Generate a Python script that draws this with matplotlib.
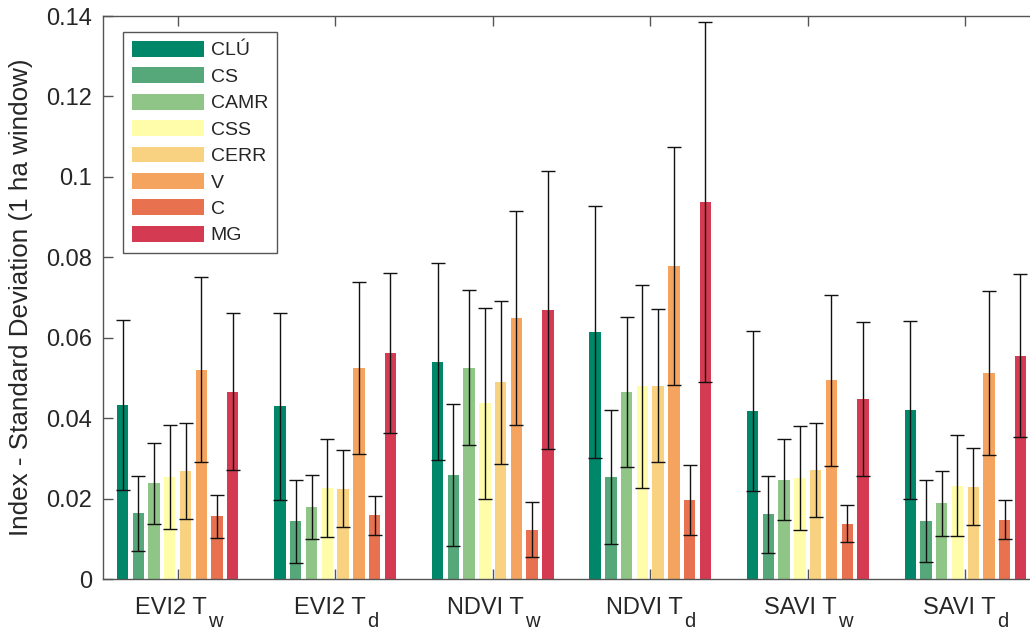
import matplotlib
matplotlib.use('Agg')
import matplotlib.pyplot as plt
import numpy as np
from matplotlib.ticker import FormatStrFormatter

plt.rcParams['font.family'] = ['Liberation Sans', 'DejaVu Sans']

group_index = ['EVI2', 'EVI2', 'NDVI', 'NDVI', 'SAVI', 'SAVI']
group_sub = ['w', 'd', 'w', 'd', 'w', 'd']
classes = ['CLÚ', 'CS', 'CAMR', 'CSS', 'CERR', 'V', 'C', 'MG']
colors = ['#00876a', '#56a87a', '#8fc587', '#fffdaa', '#f8d280', '#f4a45f', '#e8714f', '#d43b52']

# mean std per class, one value per group
mean_clu = [0.0433, 0.0430, 0.0541, 0.0615, 0.0418, 0.0421]
mean_cs = [0.0164, 0.0145, 0.0260, 0.0255, 0.0162, 0.0145]
mean_camr = [0.0239, 0.0180, 0.0526, 0.0466, 0.0248, 0.0189]
mean_css = [0.0255, 0.0228, 0.0438, 0.0480, 0.0253, 0.0233]
mean_cerr = [0.0270, 0.0226, 0.0490, 0.0481, 0.0272, 0.0231]
mean_v = [0.0521, 0.0525, 0.0650, 0.0779, 0.0495, 0.0513]
mean_c = [0.0157, 0.0159, 0.0124, 0.0197, 0.0138, 0.0149]
mean_mg = [0.0467, 0.0562, 0.0670, 0.0938, 0.0449, 0.0556]

err_clu = [0.0211, 0.0232, 0.0245, 0.0312, 0.0199, 0.0222]
err_cs = [0.0094, 0.0103, 0.0176, 0.0166, 0.0096, 0.0102]
err_camr = [0.0100, 0.0079, 0.0192, 0.0187, 0.0101, 0.0081]
err_css = [0.0130, 0.0122, 0.0237, 0.0252, 0.0129, 0.0125]
err_cerr = [0.0120, 0.0096, 0.0203, 0.0190, 0.0117, 0.0096]
err_v = [0.0230, 0.0214, 0.0266, 0.0296, 0.0213, 0.0203]
err_c = [0.0053, 0.0049, 0.0068, 0.0087, 0.0046, 0.0048]
err_mg = [0.0196, 0.0199, 0.0346, 0.0448, 0.0191, 0.0203]

means = [mean_clu, mean_cs, mean_camr, mean_css, mean_cerr, mean_v, mean_c, mean_mg]
errs = [err_clu, err_cs, err_camr, err_css, err_cerr, err_v, err_c, err_mg]

fig = plt.figure(figsize=(10.3, 6.3), dpi=100)
ax = fig.add_axes([0.1, 0.0802, 0.9097, 0.8944])

x = np.arange(1, len(group_index) + 1)
step = 0.1
for i in range(len(classes)):
    pos = x + (i - 3.5) * step
    ax.bar(pos, means[i], width=0.072, color=colors[i], edgecolor='none', label=classes[i], zorder=2)
    ax.errorbar(pos, means[i], yerr=errs[i], fmt='none', ecolor='#111111', elinewidth=1.0,
                capsize=5, capthick=1.0, zorder=3)

ax.set_xlim(0.526, 6.474)
ax.set_ylim(0, 0.14)
ax.set_xticks(x)
ax.set_xticklabels([])
ax.set_yticks(np.arange(0, 0.141, 0.02))
ax.yaxis.set_major_formatter(FormatStrFormatter('%g'))
ax.set_axisbelow(True)

ax.tick_params(direction='in', length=7, width=1.0, color='#555555', labelsize=17,
               labelcolor='#262626', top=True, right=True)
ax.tick_params(axis='y', pad=8)
for s in ax.spines.values():
    s.set_color('#555555')
    s.set_linewidth(1.0)

ax.set_ylabel('Index - Standard Deviation (1 ha window)', fontsize=18.7, color='#262626', labelpad=9)

# group labels with MATLAB-like subscripts (bigger and lower than mathtext)
fig.canvas.draw()
renderer = fig.canvas.get_renderer()
for i in range(len(x)):
    t1 = ax.annotate(group_index[i] + ' T', xy=(x[i], 0), xycoords=('data', 'axes fraction'),
                     xytext=(0, -25), textcoords='offset points', ha='left', va='baseline',
                     fontsize=17, color='#262626', annotation_clip=False)
    t2 = ax.annotate(group_sub[i], xy=(x[i], 0), xycoords=('data', 'axes fraction'),
                     xytext=(0, -34), textcoords='offset points', ha='left', va='baseline',
                     fontsize=14.5, color='#262626', annotation_clip=False)
    w1 = t1.get_window_extent(renderer).width * 72 / fig.dpi
    w2 = t2.get_window_extent(renderer).width * 72 / fig.dpi
    t1.xyann = (-(w1 + w2) / 2, -25)
    t2.xyann = (-(w1 + w2) / 2 + w1 + 1, -34)

leg = ax.legend(loc='upper left', bbox_to_anchor=(0.0213, 0.9716), borderaxespad=0,
                fontsize=14, handlelength=3.7, handleheight=0.88, labelspacing=0.4,
                handletextpad=0.36, borderpad=0.45, fancybox=False, framealpha=1)
leg.get_frame().set_edgecolor('#555555')
leg.get_frame().set_linewidth(1.0)
for t in leg.get_texts():
    t.set_color('#262626')

fig.savefig('out.png', dpi=100)
